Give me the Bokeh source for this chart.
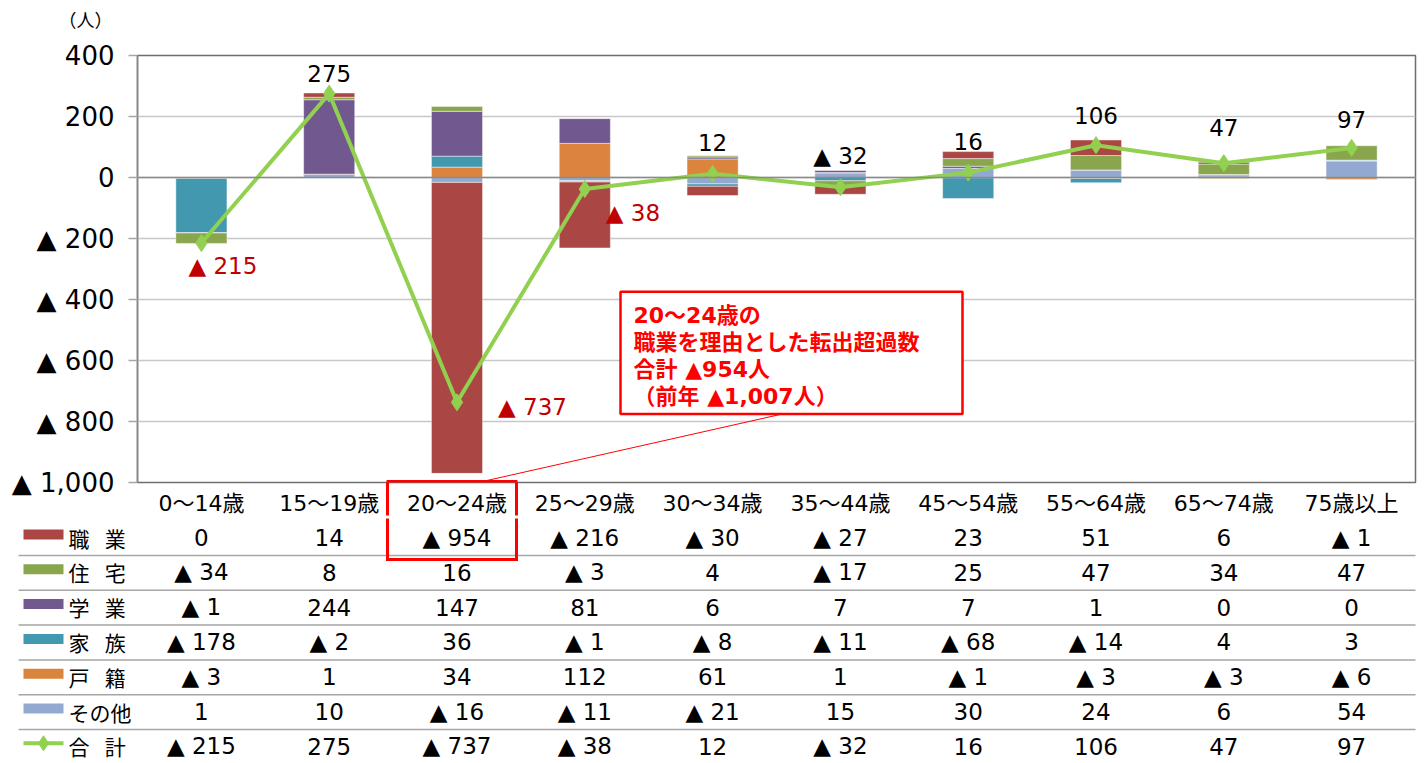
import numpy as np
from bokeh.plotting import figure
from bokeh.models import (ColumnDataSource, Range1d, FixedTicker,
                          CustomJSTickFormatter, Span)
from bokeh.core.properties import value
from bokeh.embed import file_html
from bokeh.resources import INLINE

# ---------------- data ----------------
categories = ["0～14歳", "15～19歳", "20～24歳", "25～29歳", "30～34歳",
              "35～44歳", "45～54歳", "55～64歳", "65～74歳", "75歳以上"]
series_names = ["職業", "住宅", "学業", "家族", "戸籍", "その他"]
legend_labels = ["職\u2002 業", "住\u2002 宅", "学\u2002 業", "家\u2002 族", "戸\u2002 籍", "その他", "合\u2002 計"]
shokugyo = [0, 14, -954, -216, -30, -27, 23, 51, 6, -1]
jutaku = [-34, 8, 16, -3, 4, -17, 25, 47, 34, 47]
gakugyo = [-1, 244, 147, 81, 6, 7, 7, 1, 0, 0]
kazoku = [-178, -2, 36, -1, -8, -11, -68, -14, 4, 3]
koseki = [-3, 1, 34, 112, 61, 1, -1, -3, -3, -6]
sonota = [1, 10, -16, -11, -21, 15, 30, 24, 6, 54]
total = [-215, 275, -737, -38, 12, -32, 16, 106, 47, 97]
y_ticks = [400, 200, 0, -200, -400, -600, -800, -1000]
unit_label = "（人）"
callout_lines = ["20～24歳の", "職業を理由とした転出超過数", "合計  ▲954人", "（前年 ▲1,007人）"]

series_values = {"職業": shokugyo, "住宅": jutaku, "学業": gakugyo,
                 "家族": kazoku, "戸籍": koseki, "その他": sonota}

# ---------------- styles ----------------
JP = "Noto Sans CJK JP"
NUM = "DejaVu Sans, Noto Sans CJK JP"
colors = {"職業": "#AA4643", "住宅": "#89A54E", "学業": "#71588F",
          "家族": "#4198AF", "戸籍": "#DB843D", "その他": "#93A9CF"}
LINE_GREEN = "#92D050"
RED = "#FF0000"
stack_order = ["その他", "戸籍", "家族", "学業", "住宅", "職業"]

W = 1424
HH = 30                      # header strip      (page 0..30)
TABLE_TOP = 518
CH = TABLE_TOP - HH          # chart figure      (page 30..518, frame 55..485)
TH = 761 - TABLE_TOP         # table figure      (page 518..761)
BOTTOM_BORDER = TABLE_TOP - 485
FRAME_LEFT = 137.0
CAT_W = 127.8
N = len(categories)
xi = list(range(N))           # category positions on the numeric x scale


def sx(page_x):
    return (page_x - FRAME_LEFT) / CAT_W - 0.5


def vy(page_y):
    return 400 - (page_y - 55) * 1400.0 / 430.0


def fmt(v):
    return "▲ {:,}".format(-v) if v < 0 else "{:,}".format(v)


def bare(fig):
    fig.grid.visible = False
    fig.outline_line_color = None
    return fig


# ---------------- header (unit) ----------------
h = bare(figure(width=W, height=HH, x_range=Range1d(0, W), y_range=Range1d(HH, 0),
                output_backend="svg", toolbar_location=None, min_border=0,
                x_axis_location=None, y_axis_location=None))
h.text(x=[58], y=[18], text=[unit_label], text_font=value(JP), text_font_size="18px",
       text_color="#000000", text_align="left", text_baseline="middle")

# ---------------- chart ----------------
p = figure(width=W, height=CH, x_range=Range1d(-0.5, N - 0.5),
           y_range=Range1d(-1000, 400),
           output_backend="svg", toolbar_location=None,
           min_border_left=137, min_border_right=9, min_border_top=25,
           min_border_bottom=BOTTOM_BORDER)

# category axis; its two red minor ticks form the upper sides of the highlight box
xax = p.xaxis[0]
xax.ticker = FixedTicker(ticks=xi, minor_ticks=[sx(387), sx(516)])
xax.major_label_overrides = {i: c for i, c in zip(xi, categories)}
xax.major_label_text_font = NUM
xax.major_label_text_font_size = "22px"
xax.major_label_text_color = "#000000"
xax.major_label_standoff = -25
xax.axis_line_color = None
xax.major_tick_line_color = None
xax.major_tick_out = 0
xax.major_tick_in = 0
xax.minor_tick_line_color = RED
xax.minor_tick_line_width = 3
xax.minor_tick_out = BOTTOM_BORDER
xax.minor_tick_in = 0

yax = p.yaxis[0]
yax.ticker = FixedTicker(ticks=y_ticks)
yax.formatter = CustomJSTickFormatter(code="""
    if (tick < 0) { return "▲ " + Math.abs(tick).toLocaleString("en-US"); }
    return tick.toString();
""")
yax.major_label_text_font = NUM
yax.major_label_text_font_size = "26px"
yax.major_label_text_color = "#000000"
yax.major_label_standoff = 14
yax.axis_line_color = "#868686"
yax.axis_line_width = 1.5
yax.major_tick_line_color = "#A6A6A6"
yax.major_tick_line_width = 1.5
yax.major_tick_out = 9
yax.major_tick_in = 0
yax.minor_tick_line_color = None

p.ygrid.ticker = FixedTicker(ticks=y_ticks)
p.ygrid.grid_line_color = "#C8C8C8"
p.ygrid.grid_line_width = 1.5
p.xgrid.grid_line_color = None
p.outline_line_color = "#6E6E6E"
p.outline_line_width = 1.5
p.add_layout(Span(location=0, dimension="width", line_color="#8A8A8A", line_width=1.5))

pos_base = np.zeros(N)
neg_base = np.zeros(N)
for name in stack_order:
    v = np.array(series_values[name], dtype=float)
    bottom = np.where(v >= 0, pos_base, neg_base)
    top = bottom + v
    pos_base = pos_base + np.where(v > 0, v, 0)
    neg_base = neg_base + np.where(v < 0, v, 0)
    src = ColumnDataSource(dict(x=xi, bottom=bottom, top=top))
    p.vbar(x="x", bottom="bottom", top="top", width=0.4, source=src,
           fill_color=colors[name], line_color="#FFFFFF", line_alpha=0.45, line_width=1)

p.line(xi, total, line_color=LINE_GREEN, line_width=4)
p.scatter(xi, total, marker="diamond", size=17, color=LINE_GREEN)

# data labels for the total line
lab_dx = [-13, 0, 41, 21, 0, 0, 0, 0, 0, 0]
lab_dy = [23, -20, 5, 24, -31, -31, -31, -30, -36, -28]
lab_align = ["left", "center", "left", "left", "center", "center", "center", "center", "center", "center"]
lab_color = ["#C00000", "#000000", "#C00000", "#C00000", "#000000", "#000000",
             "#000000", "#000000", "#000000", "#000000"]
for al in ["left", "center"]:
    idx = [i for i in xi if lab_align[i] == al]
    src = ColumnDataSource(dict(x=idx, y=[total[i] for i in idx],
                                text=[fmt(total[i]) for i in idx],
                                dx=[lab_dx[i] for i in idx], dy=[lab_dy[i] for i in idx],
                                c=[lab_color[i] for i in idx]))
    p.text(x="x", y="y", text="text", x_offset="dx", y_offset="dy", source=src,
           text_color="c", text_font=value(NUM), text_font_size="23px",
           text_align=al, text_baseline="middle")

# callout box
p.segment(x0=[sx(782)], y0=[vy(416)], x1=[sx(482)], y1=[vy(484)], line_color=RED, line_width=1)
p.quad(left=[sx(620)], right=[sx(962)], top=[vy(293)], bottom=[vy(416)],
       fill_color="#FFFFFF", line_color=RED, line_width=2.5)
p.text(x=[sx(633)] * 4, y=[vy(317), vy(344), vy(371), vy(398)], text=callout_lines,
       text_color=RED, text_font=value(NUM), text_font_size="22px",
       text_font_style="bold", text_align="left", text_baseline="middle")
# top edge of the highlight box
p.segment(x0=[sx(386)], x1=[sx(517)], y0=[vy(484)], y1=[vy(484)], line_color=RED, line_width=3)

# ---------------- table ----------------
t = bare(figure(width=W, height=TH, x_range=Range1d(sx(0), sx(W)),
                y_range=Range1d(TH, 0), output_backend="svg", toolbar_location=None,
                min_border=0, x_axis_location=None, y_axis_location=None))

ROW0 = 537 - TABLE_TOP
ROW_H = 34.8

rows = [series_values[n] for n in series_names] + [total]
for k, vals in enumerate(rows):
    ry = ROW0 + ROW_H * k
    t.text(x=xi, y=[ry] * N, text=[fmt(v) for v in vals], text_font=value(NUM),
           text_font_size="23px", text_color="#000000", text_align="center", text_baseline="middle")
    t.text(x=[sx(68)], y=[ry], text=[legend_labels[k]], text_font=value(JP),
           text_font_size="21px", text_color="#000000", text_align="left", text_baseline="middle")
    if k < len(series_names):
        t.quad(left=[sx(23)], right=[sx(63)], top=[ry - 8], bottom=[ry + 2],
               fill_color=colors[series_names[k]], line_color=None)
        t.segment(x0=[sx(18)], x1=[sx(1415)], y0=[ry + 18], y1=[ry + 18],
                  line_color="#A6A6A6", line_width=1.5)
    else:
        t.segment(x0=[sx(23)], x1=[sx(63)], y0=[ry - 3], y1=[ry - 3], line_color=LINE_GREEN, line_width=4)
        t.scatter(x=[sx(43)], y=[ry - 3], marker="diamond", size=15, color=LINE_GREEN)

# highlight box (lower part, around ▲954)
hb_bottom = 559 - TABLE_TOP
t.segment(x0=[sx(387), sx(516), sx(387)], y0=[-2, -2, hb_bottom],
          x1=[sx(387), sx(516), sx(516)], y1=[hb_bottom, hb_bottom, hb_bottom],
          line_color=RED, line_width=3, line_cap="square")

open("out.html", "w").write(file_html([h, p, t], INLINE, title="chart"))
